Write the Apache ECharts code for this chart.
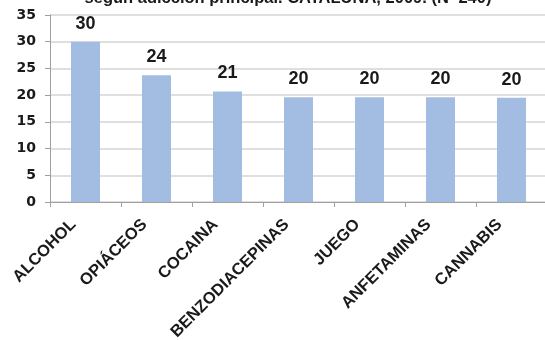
<!DOCTYPE html>
<html>
<head>
<meta charset="utf-8">
<script src="https://cdn.jsdelivr.net/npm/echarts@6/dist/echarts.min.js"></script>
<style>
html,body{margin:0;padding:0;background:#fff;}
#c{width:545px;height:340px;}
</style>
</head>
<body>
<div id="c"></div>
<script>
const titleText = "según adicción principal. CATALUÑA, 2009. (N=240)";
const categories = ["ALCOHOL","OPIÁCEOS","COCAINA","BENZODIACEPINAS","JUEGO","ANFETAMINAS","CANNABIS"];
const values = [30, 23.7, 20.7, 19.6, 19.6, 19.6, 19.5];
const valueLabels = [30, 24, 21, 20, 20, 20, 20];
const yTicks = [0, 5, 10, 15, 20, 25, 30, 35];

const chart = echarts.init(document.getElementById('c'), null, {renderer:'canvas'});
chart.setOption({
  animation: false,
  backgroundColor: '#ffffff',
  title: {
    text: titleText,
    left: 288,
    textAlign: 'center',
    top: -10,
    padding: 0,
    textStyle: {fontFamily: 'Liberation Sans', fontWeight: 'bold', fontSize: 16.5, color: '#1a1a1a'}
  },
  grid: {left: 50, right: -2, top: 15, bottom: 138, containLabel: false, outerBoundsMode: 'none'},
  xAxis: {
    type: 'category',
    data: categories,
    axisLine: {show: true, lineStyle: {color: '#a0a0a0', width: 1}},
    axisTick: {show: true, length: 5, alignWithLabel: false, lineStyle: {color: '#a0a0a0'}},
    axisLabel: {
      interval: 0,
      rotate: 45,
      margin: 8,
      padding: [0, 17, 0, 0],
      fontFamily: 'Liberation Sans',
      fontWeight: 'bold',
      fontSize: 16.5,
      color: '#1a1a1a'
    }
  },
  yAxis: {
    type: 'value',
    min: yTicks[0],
    max: yTicks[yTicks.length - 1],
    interval: 5,
    axisLine: {show: true, lineStyle: {color: '#a0a0a0', width: 1}},
    axisTick: {show: true, length: 5, lineStyle: {color: '#a0a0a0'}},
    splitLine: {show: true, lineStyle: {color: '#d4d4d4', width: 1.5}},
    axisLabel: {
      margin: 14,
      fontFamily: 'DejaVu Sans',
      fontWeight: 'bold',
      fontSize: 14,
      color: '#1a1a1a'
    }
  },
  series: [{
    type: 'bar',
    data: values,
    barWidth: 29,
    itemStyle: {color: '#a3bde2'},
    label: {
      show: true,
      position: 'top',
      distance: 9,
      formatter: p => String(valueLabels[p.dataIndex]),
      fontFamily: 'Liberation Sans',
      fontWeight: 'bold',
      fontSize: 18,
      color: '#1a1a1a'
    }
  }]
});
</script>
</body>
</html>
